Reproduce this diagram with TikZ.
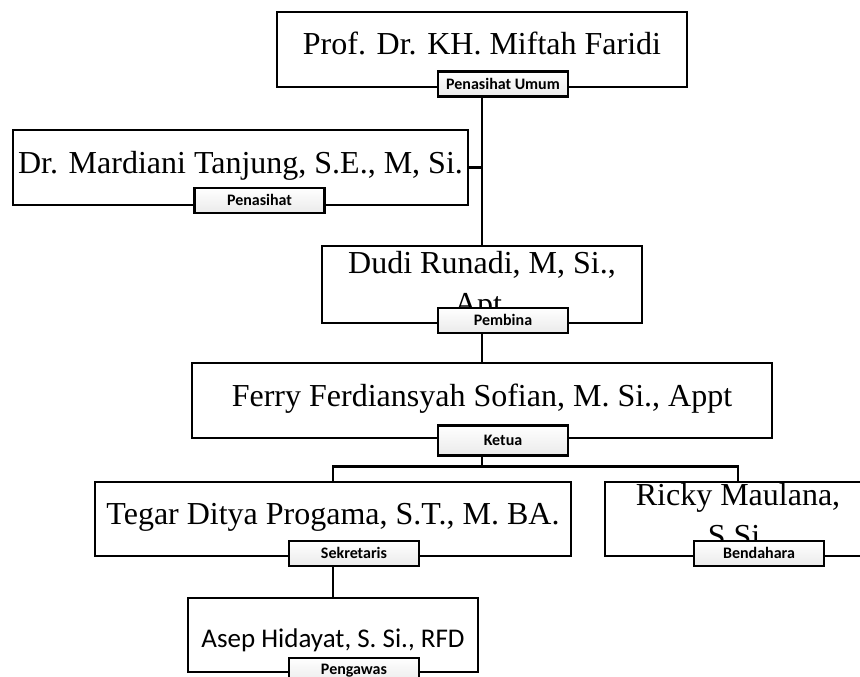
\documentclass[tikz,border=0pt]{standalone}
\usepackage{fontspec}
\setmainfont{Liberation Serif}
\newfontfamily\tagfont{Carlito}
\usetikzlibrary{positioning}
\tikzset{
    member/.style={rectangle, draw, fill=white, line width=2.5pt, inner sep=0, minimum height=75pt, align=center, font=\fontsize{32}{41}\selectfont},
    single/.style={member, text height=22pt, text depth=11pt},
    tag/.style={rectangle, draw, line width=2.5pt, top color=white, bottom color=black!8, minimum width=130pt, minimum height=25pt, inner sep=0, font=\tagfont\bfseries\fontsize{16}{17}\selectfont},
    link/.style={line width=2.5pt},
  }
\begin{document}
\begin{tikzpicture}[x=1pt, y=-1pt]
      \useasboundingbox (0,0) rectangle (860,677);
      % boxes
      \node (umum) [single, minimum width=410pt] at (482,49.5) {Prof. Dr. KH. Miftah Faridi};
      \node (penasihat) [single, minimum width=455pt] at (240.5,167.5) {Dr. Mardiani Tanjung, S.E., M, Si.};
      \node (pembina) [member, minimum width=320pt, text height=68pt, text depth=9pt] at (482,284.5) {Dudi Runadi, M, Si.,\\Apt.};
      \node (ketua) [single, minimum width=580pt] at (482,400.5) {Ferry Ferdiansyah Sofian, M. Si., Appt};
      \node (sekretaris) [single, minimum width=476pt, minimum height=74pt] at (333,519) {Tegar Ditya Progama, S.T., M. BA.};
      \node (bendahara) [member, minimum width=266pt, minimum height=74pt, text height=63pt, text depth=9pt] at (738,519) {Ricky Maulana,\\S.Si.};
      \node (pengawas) [single, minimum width=290pt, minimum height=74pt, font=\tagfont\fontsize{27}{29}\selectfont, text height=30pt, text depth=6pt] at (333,635) {Asep Hidayat, S. Si., RFD};

      % lines
      \draw[link] (umum.south) -- (pembina.north);
      \draw[link] (penasihat.east) -- (penasihat.east -| umum.south);
      \draw[link] (pembina.south) -- (ketua.north);
      \draw[link] (ketua.south) -- ++(0,27) coordinate (fork);
      \draw[link] (sekretaris.north) |- (fork) -| (bendahara.north);
      \draw[link] (sekretaris.south) -- (pengawas.north);

      % role tags
      \node (umum-tag) [tag] at ([xshift=21pt, yshift=4pt]umum.south) {Penasihat Umum};
      \node (penasihat-tag) [tag] at ([xshift=19pt, yshift=6pt]penasihat.south) {Penasihat};
      \node (pembina-tag) [tag] at ([xshift=21pt, yshift=4pt]pembina.south) {Pembina};
      \node (ketua-tag) [tag, minimum height=30pt] at ([xshift=21pt, yshift=-1pt]ketua.south) {Ketua};
      \node (sekretaris-tag) [tag] at ([xshift=21pt, yshift=4pt]sekretaris.south) {Sekretaris};
      \node (bendahara-tag) [tag] at ([xshift=21pt, yshift=4pt]bendahara.south) {Bendahara};
      \node (pengawas-tag) [tag] at ([xshift=21pt, yshift=3pt]pengawas.south) {Pengawas};
\end{tikzpicture}
\end{document}
